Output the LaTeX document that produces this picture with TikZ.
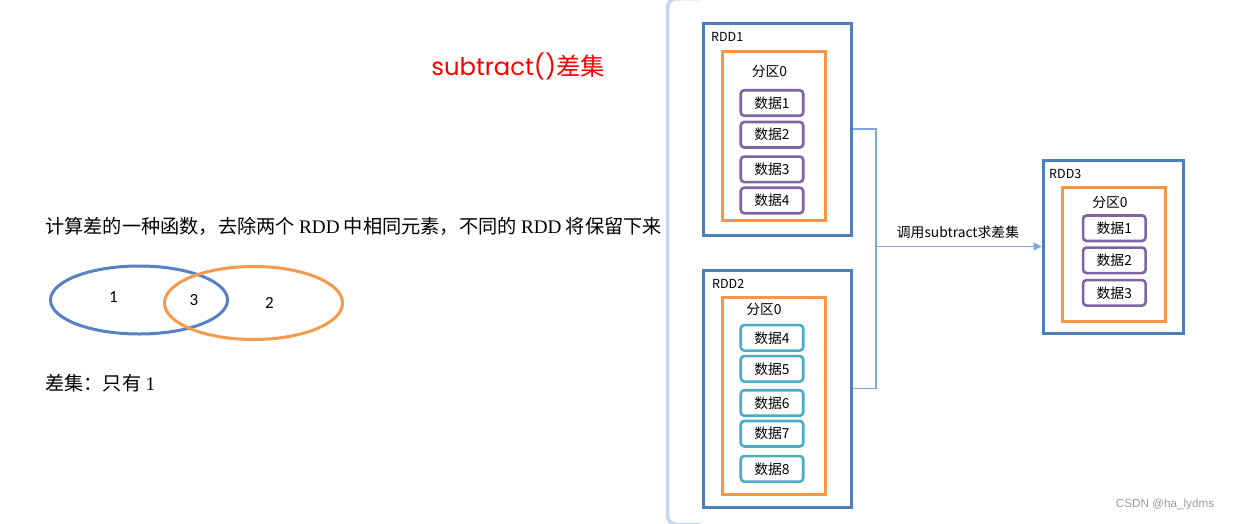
\documentclass[tikz,border=0pt]{standalone}
\usepackage{fontspec}
\setmainfont{Noto Sans CJK SC}
\newfontfamily\cjkfont{Noto Sans CJK SC}
\newfontfamily\seriflat{Liberation Serif}
\newfontfamily\titlelat{Poppins}
\newfontfamily\carl{Carlito}
\newfontfamily\wmfont{Liberation Sans}
\usetikzlibrary{arrows.meta}
\definecolor{rddblue}{HTML}{4F7EBD}
\definecolor{partorange}{HTML}{F79646}
\definecolor{datapurple}{HTML}{8064A2}
\definecolor{datacyan}{HTML}{4BACC6}
\definecolor{connblue}{HTML}{7EA6DA}
\definecolor{panelblue}{HTML}{C3D7F0}
\definecolor{vennblue}{HTML}{5583C2}
\definecolor{vennorange}{HTML}{F39A4C}
\definecolor{wmgray}{HTML}{9A9A9A}
\tikzset{
  fs/.style={font=\fontsize{#1}{#1}\selectfont},
  rddbox/.style={draw=rddblue, line width=3pt, minimum width=#1},
  partbox/.style={draw=partorange, line width=3pt, minimum width=103pt},
  pdata/.style={draw=datapurple, line width=2.6pt, rounded corners=3.5pt, minimum width=62.5pt, minimum height=25.5pt, inner sep=0pt, fs=13.8},
  cdata/.style={draw=datacyan, line width=2.6pt, rounded corners=3.5pt, minimum width=62.5pt, minimum height=25.5pt, inner sep=0pt, fs=13.8},
  rddlabel/.style={anchor=west, inner sep=0pt, fs=12.5},
  partlabel/.style={inner sep=0pt, fs=13.8},
  conn/.style={draw=connblue, line width=1.2pt},
}
\begin{document}
\begin{tikzpicture}[x=1pt,y=-1pt]
\useasboundingbox (0,0) rectangle (1237,523);
\clip (0,0) rectangle (1237,523);
\fill[white] (0,0) rectangle (1237,523);

% title
\node[fs=24.3, text=red, inner sep=0pt] (title) at (518,66) {{\titlelat subtract()}差集};

% description
\node[anchor=west, inner sep=0pt, fs=19.2] (desc) at (45,226) {计算差的一种函数，去除两个 {\seriflat RDD} 中相同元素，不同的 {\seriflat RDD} 将保留下来};

% venn
\draw[vennblue, line width=3pt] (139,300) ellipse [x radius=88.5, y radius=34];
\draw[vennorange, line width=3pt] (253.5,303) ellipse [x radius=89, y radius=36.5];
\node[fs=17, inner sep=0pt] (v1) at (113.5,297.5) {\carl 1};
\node[fs=17, inner sep=0pt] (v3) at (194,300) {\carl 3};
\node[fs=17, inner sep=0pt] (v2) at (269.5,303) {\carl 2};

\node[anchor=west, inner sep=0pt, fs=19.2] (res) at (45,383) {差集：只有 {\seriflat 1}};

% panel edge
\draw[panelblue, line width=3.5pt, rounded corners=9pt] (700,-1.5) -- (667.5,-1.5) -- (667.5,524.5) -- (700,524.5);

% RDD1
\node[rddbox=148pt, minimum height=212pt] (rdd1) at (777,129) {};
\node[rddlabel] (rdd1l) at (711,37) {RDD1};
\node[partbox, minimum height=169pt] (p1) at (773.5,135.5) {};
\node[partlabel] (p1l) at (769.5,71) {分区0};
\node[pdata] (a1) at (772,103) {数据1};
\node[pdata] (a2) at (772,134.7) {数据2};
\node[pdata] (a3) at (772,169.3) {数据3};
\node[pdata] (a4) at (772,200.5) {数据4};

% RDD2
\node[rddbox=148pt, minimum height=237pt] (rdd2) at (777,388.5) {};
\node[rddlabel] (rdd2l) at (712,284) {RDD2};
\node[partbox, minimum height=197pt] (p2) at (773.5,395.5) {};
\node[partlabel] (p2l) at (764,309.5) {分区0};
\node[cdata] (b4) at (772,337.8) {数据4};
\node[cdata] (b5) at (772,368.8) {数据5};
\node[cdata] (b6) at (772,403) {数据6};
\node[cdata] (b7) at (772,433.7) {数据7};
\node[cdata] (b8) at (772,468.8) {数据8};

% RDD3
\node[rddbox=140pt, minimum height=173pt] (rdd3) at (1113,246.5) {};
\node[rddlabel] (rdd3l) at (1049,174) {RDD3};
\node[partbox, minimum height=134pt] (p3) at (1113.5,254) {};
\node[partlabel] (p3l) at (1110,202) {分区0};
\node[pdata] (c1) at (1114.3,228.2) {数据1};
\node[pdata] (c2) at (1114.3,260.3) {数据2};
\node[pdata] (c3) at (1114.3,292.8) {数据3};

% connectors
\coordinate (j) at (876,246.5);
\draw[conn] (rdd1.east) -| (j) |- (rdd2.east);
\draw[conn, -{Triangle[length=8pt,width=8pt]}] (j) -- (rdd3.west);
\node[fs=13.8, inner sep=0pt] (opl) at (958,232) {调用subtract求差集};

% watermark
\node[fs=11.7, text=wmgray, inner sep=0pt] (wm) at (1165,504.5) {\wmfont CSDN @ha\_lydms};
\end{tikzpicture}
\end{document}
